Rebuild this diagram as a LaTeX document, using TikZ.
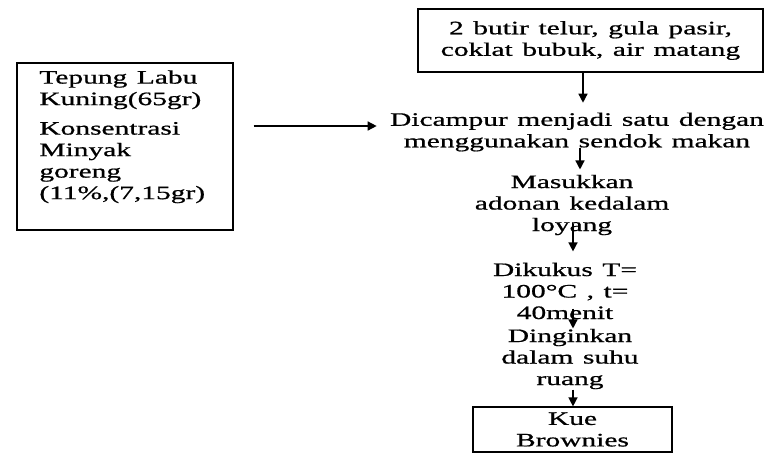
\documentclass[tikz,border=0pt]{standalone}
\usepackage{fontspec}
\usetikzlibrary{arrows.meta}
\setmainfont{Liberation Serif}[FakeStretch=1.55,WordSpace=1.3,FakeBold=0.8]
\begin{document}
\begin{tikzpicture}[x=0.5pt,y=-0.5pt,>={Triangle[length=4.5pt,width=4.5pt]},
    font=\fontsize{9.5}{10.75}\selectfont,
    kotak/.style={draw,line width=0.6pt,align=center},
    teks/.style={align=center,inner sep=0pt},
    panah/.style={->,line width=0.7pt}]
  \useasboundingbox (0,0) rectangle (772,462);
  \node[kotak,minimum width=108pt,minimum height=83.5pt] (bahanbox) at (125,146.5) {};
  \node[align=left,anchor=north west,inner sep=0pt] (bahan) at (39,70)
    {Tepung Labu\\Kuning(65gr)\\[4pt]Konsentrasi\\Minyak\\goreng\\(11\%,(7,15gr)};
  \node[kotak,minimum width=172.5pt,minimum height=31.5pt] (telur) at (590.5,40.5)
    {2 butir telur, gula pasir,\\coklat bubuk, air matang};
  \node[teks] (campur) at (577,132)
    {Dicampur menjadi satu dengan\\menggunakan sendok makan};
  \node[teks] (masuk) at (572,205) {Masukkan\\adonan kedalam\\loyang};
  \node[teks] (kukus) at (565,291) {Dikukus T=\\100°C , t=\\40menit};
  \node[teks] (dingin) at (570,359) {Dinginkan\\dalam suhu\\ruang};
  \node[kotak,minimum width=99.5pt,minimum height=22.5pt,inner sep=1pt] (kue) at (572.5,429.5)
    {Kue\\Brownies};
  \draw[panah] ([xshift=10pt,yshift=10.25pt]bahanbox.east) -- ([xshift=-6.5pt,yshift=3pt]campur.west);
  \draw[panah] ([xshift=-3.75pt]telur.south) -- ([xshift=-3.75pt,yshift=4.75pt]telur.south |- campur.north);
  \draw[panah] ([xshift=1.5pt,yshift=1.75pt]campur.south) -- ([xshift=1.5pt,yshift=2.5pt]campur.south |- masuk.north);
  \draw[panah] ([xshift=0.5pt,yshift=6pt]masuk.south) -- ([xshift=0.5pt,yshift=5.5pt]masuk.south |- kukus.north);
  \draw[panah] ([xshift=4pt,yshift=5.5pt]kukus.south) -- ([xshift=4pt]kukus.south |- dingin.north);
  \draw[panah] ([xshift=1.5pt]dingin.south) -- ([xshift=1.5pt]dingin.south |- kue.north);
\end{tikzpicture}
\end{document}
